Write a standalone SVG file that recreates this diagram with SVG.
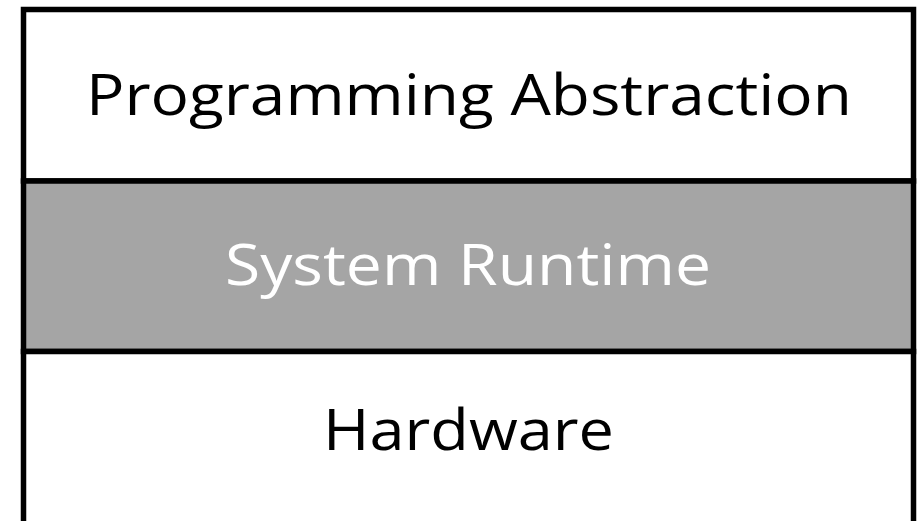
<svg xmlns="http://www.w3.org/2000/svg" width="923" height="521" viewBox="0 0 923 521">
  <style>
    .layer { stroke: #000000; stroke-width: 5.5; }
    .label { font-family: "Open Sans", "Noto Sans", "Liberation Sans", sans-serif; font-size: 56px; text-anchor: middle; }
  </style>
  <rect x="0" y="0" width="923" height="521" fill="#ffffff"/>
  <!-- Stack of three layers, top to bottom -->
  <g id="programming-abstraction">
    <rect class="layer" x="23.5" y="9.5" width="890" height="171.5" fill="#ffffff"/>
    <text class="label" x="469" y="115" fill="#000000" textLength="766" lengthAdjust="spacingAndGlyphs">Programming Abstraction</text>
  </g>
  <g id="system-runtime">
    <rect class="layer" x="23.5" y="181" width="890" height="170.5" fill="#a5a5a5"/>
    <text class="label" x="468" y="285" fill="#ffffff" textLength="486" lengthAdjust="spacingAndGlyphs">System Runtime</text>
  </g>
  <g id="hardware">
    <rect class="layer" x="23.5" y="351.5" width="890" height="190" fill="#ffffff"/>
    <text class="label" x="468.5" y="450" fill="#000000" textLength="291" lengthAdjust="spacingAndGlyphs">Hardware</text>
  </g>
  <g id="connectors"/>
</svg>
